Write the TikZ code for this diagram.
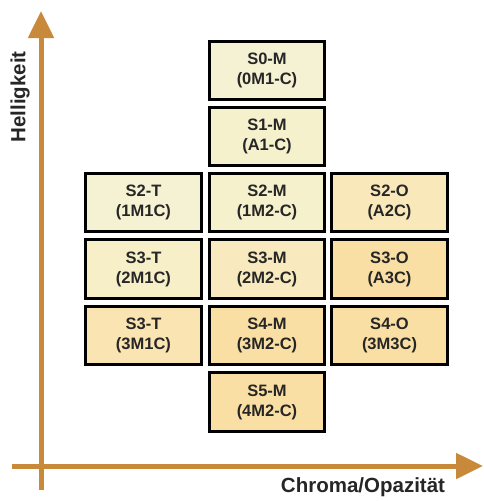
\documentclass[tikz,border=0pt]{standalone}
\usepackage{fontspec}
\setmainfont{Liberation Sans}
\usetikzlibrary{arrows.meta}
\definecolor{axiscol}{HTML}{C8893A}
\definecolor{cA}{HTML}{F5F2D3}
\definecolor{cB}{HTML}{F5F1CC}
\definecolor{cC}{HTML}{F6EFC8}
\definecolor{cD}{HTML}{F8EABE}
\definecolor{cE}{HTML}{F9E4B2}
\definecolor{cF}{HTML}{FADFA4}
\definecolor{cG}{HTML}{F9E8BA}
\tikzset{
  cell/.style={draw=black, line width=2.6pt, minimum width=115.5pt, minimum height=58.5pt,
    inner sep=0pt, align=center, font=\fontsize{16.5}{20}\selectfont\bfseries, text=black!85},
  axis/.style={draw=axiscol, line width=5pt, -{Triangle[length=27pt,width=25pt]}},
  axlabel/.style={font=\fontsize{20.5}{24}\selectfont\bfseries, text=black!85, inner sep=0pt}
}
\begin{document}
\begin{tikzpicture}[x=1pt,y=-1pt]
\useasboundingbox (0,0) rectangle (483,501);
% axes
\coordinate (vstart) at (41,490);
\coordinate (vend) at (41,11);
\coordinate (hstart) at (12,466);
\coordinate (hend) at (483,466);
\draw[axis] (vstart) -- (vend);
\draw[axis] (hstart) -- (hend);
\node[axlabel, rotate=90] (hl) at (20,97) {Helligkeit};
\node[axlabel] (cl) at (363,487) {Chroma/Opazität};
% boxes
\node[cell, fill=cA] (s0m) at (267,70.5) {S0-M\\(0M1-C)};
\node[cell, fill=cB] (s1m) at (267,136.5) {S1-M\\(A1-C)};
\node[cell, fill=cA] (s2t) at (143.5,202.5) {S2-T\\(1M1C)};
\node[cell, fill=cB] (s2m) at (267,202.5) {S2-M\\(1M2-C)};
\node[cell, fill=cG] (s2o) at (389.5,202.5) {S2-O\\(A2C)};
\node[cell, fill=cC] (s3t) at (143.5,269) {S3-T\\(2M1C)};
\node[cell, fill=cD] (s3m) at (267,269) {S3-M\\(2M2-C)};
\node[cell, fill=cF] (s3o) at (389.5,269) {S3-O\\(A3C)};
\node[cell, fill=cE] (s4t) at (143.5,335.5) {S3-T\\(3M1C)};
\node[cell, fill=cF] (s4m) at (267,335.5) {S4-M\\(3M2-C)};
\node[cell, fill=cF] (s4o) at (389.5,335.5) {S4-O\\(3M3C)};
\node[cell, fill=cF] (s5m) at (267,402) {S5-M\\(4M2-C)};
\end{tikzpicture}
\end{document}
